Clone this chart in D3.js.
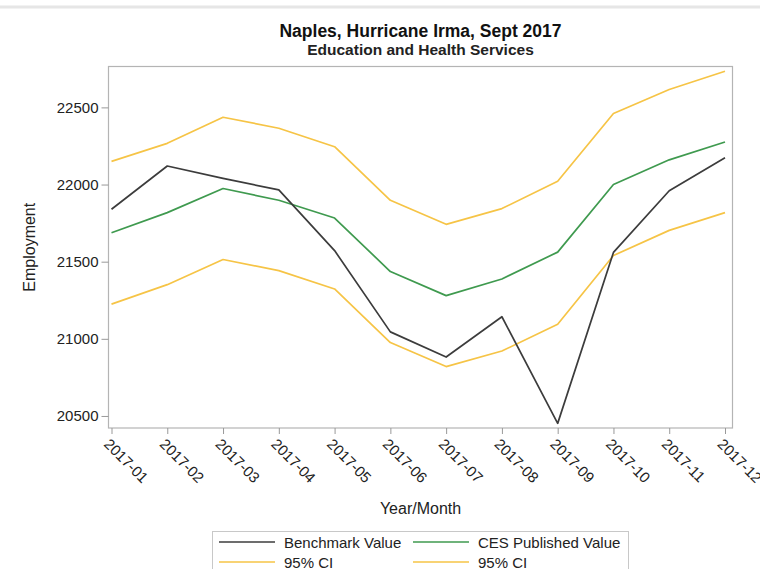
<!DOCTYPE html>
<html>
<head>
<meta charset="utf-8">
<script src="https://cdn.jsdelivr.net/npm/d3@7"></script>
<style>
  html, body { margin: 0; padding: 0; background: #fff; }
  svg { display: block; font-family: "Liberation Sans", Arial, sans-serif; }
</style>
</head>
<body>
<svg id="chart" width="760" height="569"></svg>
<script>
// Monthly employment, Education and Health Services, Naples 2017
const months = ["2017-01","2017-02","2017-03","2017-04","2017-05","2017-06",
                "2017-07","2017-08","2017-09","2017-10","2017-11","2017-12"];
const benchmark = [21840, 22120, 22040, 21965, 21572, 21045, 20882, 21143, 20452, 21560, 21960, 22174];
const cesPublished = [21687, 21818, 21974, 21898, 21783, 21436, 21280, 21388, 21562, 22000, 22160, 22276];
const ciUpper = [22150, 22267, 22436, 22365, 22245, 21898, 21742, 21844, 22021, 22460, 22616, 22734];
const ciLower = [21225, 21351, 21514, 21442, 21323, 20976, 20820, 20921, 21095, 21540, 21703, 21818];
const yTicks = [20500, 21000, 21500, 22000, 22500];

const series = [
  { name: "Benchmark Value", values: benchmark, color: "#3c3c3c" },
  { name: "CES Published Value", values: cesPublished, color: "#3f9a4f" },
  { name: "95% CI", values: ciUpper, color: "#f6c446" },
  { name: "95% CI", values: ciLower, color: "#f6c446" }
];

const svg = d3.select("#chart");
const frame = { left: 108.5, right: 732.5, top: 66.5, bottom: 428 };
const textColor = "#222";

// faint rule along the top of the page
svg.append("line")
  .attr("x1", 0).attr("x2", 760).attr("y1", 7).attr("y2", 7)
  .attr("stroke", "#e6e6e6").attr("stroke-width", 3);

const x = d3.scalePoint().domain(months).range([111.5, 725]);
const y = d3.scaleLinear().domain([20422, 22765]).range([frame.bottom, frame.top]);

// titles
svg.append("text")
  .attr("x", 420.5).attr("y", 37)
  .attr("text-anchor", "middle")
  .attr("font-size", 17.5).attr("font-weight", "bold").attr("fill", "#111")
  .text("Naples, Hurricane Irma, Sept 2017");
svg.append("text")
  .attr("x", 420.5).attr("y", 55)
  .attr("text-anchor", "middle")
  .attr("font-size", 15.5).attr("font-weight", "bold").attr("fill", "#222")
  .text("Education and Health Services");

// plot frame
svg.append("rect")
  .attr("x", frame.left).attr("y", frame.top)
  .attr("width", frame.right - frame.left).attr("height", frame.bottom - frame.top)
  .attr("fill", "none").attr("stroke", "#b4b4b4").attr("stroke-width", 1.2);

// y axis
const yAxis = svg.append("g")
  .attr("transform", `translate(${frame.left},0)`)
  .call(d3.axisLeft(y).tickValues(yTicks).tickSize(7).tickPadding(3).tickFormat(d3.format("d")));
yAxis.select(".domain").remove();
yAxis.selectAll(".tick line").attr("stroke", "#999");
yAxis.selectAll(".tick text")
  .attr("font-size", 15).attr("fill", textColor)
  .attr("font-family", "Liberation Sans, Arial, sans-serif");

svg.append("text")
  .attr("transform", `translate(35,${(frame.top + frame.bottom) / 2}) rotate(-90)`)
  .attr("text-anchor", "middle")
  .attr("font-size", 16).attr("fill", textColor)
  .text("Employment");

// x axis, labels turned 45 degrees
const xAxis = svg.append("g")
  .attr("transform", `translate(0,${frame.bottom})`)
  .call(d3.axisBottom(x).tickSize(6).tickSizeOuter(0));
xAxis.select(".domain").remove();
xAxis.selectAll(".tick line").attr("stroke", "#999");
xAxis.selectAll(".tick text")
  .attr("font-size", 15).attr("fill", textColor)
  .attr("font-family", "Liberation Sans, Arial, sans-serif")
  .attr("text-anchor", "start")
  .attr("dy", null)
  .attr("transform", "translate(-9,17) rotate(45)")
  .attr("x", 0).attr("y", 0);

svg.append("text")
  .attr("x", 420.5).attr("y", 514)
  .attr("text-anchor", "middle")
  .attr("font-size", 16).attr("fill", textColor)
  .text("Year/Month");

// data lines
const line = d3.line()
  .x((d, i) => x(months[i]))
  .y(d => y(d));

svg.append("g").selectAll("path")
  .data(series.slice().reverse())
  .join("path")
  .attr("d", s => line(s.values))
  .attr("fill", "none")
  .attr("stroke", s => s.color)
  .attr("stroke-width", 1.7)
  .attr("stroke-linejoin", "round");

// legend
const legend = svg.append("g");
legend.append("rect")
  .attr("x", 212.5).attr("y", 531.5).attr("width", 416).attr("height", 44)
  .attr("fill", "#fff").attr("stroke", "#c8c8c8");
const cols = [219, 413];
series.forEach((s, i) => {
  const cx = cols[i % 2];
  const cy = 542 + Math.floor(i / 2) * 20;
  legend.append("line")
    .attr("x1", cx).attr("x2", cx + 56).attr("y1", cy).attr("y2", cy)
    .attr("stroke", s.color).attr("stroke-width", 1.7);
  legend.append("text")
    .attr("x", cx + 65).attr("y", cy + 5.5)
    .attr("font-size", 15).attr("fill", textColor)
    .text(s.name);
});
</script>
</body>
</html>
